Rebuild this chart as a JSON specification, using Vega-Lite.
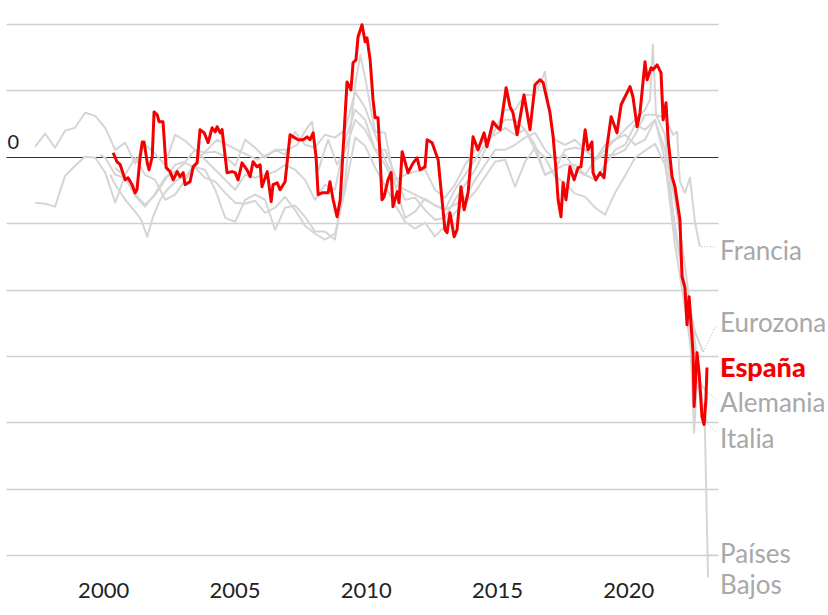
{
"$schema": "https://vega.github.io/schema/vega-lite/v6.json",
"width": 712, "height": 531,
"autosize": {"type": "none"},
"padding": {"left": 6, "top": 24, "right": 110, "bottom": 60},
"background": "white",
"config": {"view": {"stroke": null}, "font": "Lato"},
"datasets": {
"series": [
{"p":"Alemania","a":1997.41,"v":0.38},{"p":"Alemania","a":1997.79,"v":0.87},{"p":"Alemania","a":1998.17,"v":0.34},{"p":"Alemania","a":1998.55,"v":0.98},{"p":"Alemania","a":1998.93,"v":1.09},{"p":"Alemania","a":1999.31,"v":1.66},{"p":"Alemania","a":1999.70,"v":1.54},{"p":"Alemania","a":2000.08,"v":1.09},{"p":"Alemania","a":2000.46,"v":0.26},{"p":"Alemania","a":2000.84,"v":0.53},{"p":"Alemania","a":2001.22,"v":-0.26},{"p":"Alemania","a":2001.60,"v":0.45},{"p":"Alemania","a":2001.98,"v":0.11},{"p":"Alemania","a":2002.36,"v":-0.30},{"p":"Alemania","a":2002.74,"v":0.83},{"p":"Alemania","a":2003.12,"v":0.60},{"p":"Alemania","a":2003.50,"v":0.26},{"p":"Alemania","a":2003.88,"v":0.15},{"p":"Alemania","a":2004.27,"v":0.19},{"p":"Alemania","a":2004.65,"v":0},{"p":"Alemania","a":2005.03,"v":-0.34},{"p":"Alemania","a":2005.41,"v":0.64},{"p":"Alemania","a":2005.79,"v":0.34},{"p":"Alemania","a":2006.17,"v":-0.04},{"p":"Alemania","a":2006.55,"v":0.26},{"p":"Alemania","a":2006.93,"v":0.08},{"p":"Alemania","a":2007.31,"v":0.94},{"p":"Alemania","a":2007.69,"v":0.45},{"p":"Alemania","a":2008.07,"v":0.34},{"p":"Alemania","a":2008.45,"v":0.83},{"p":"Alemania","a":2008.83,"v":0.72},{"p":"Alemania","a":2009.22,"v":1.02},{"p":"Alemania","a":2009.60,"v":2.45},{"p":"Alemania","a":2009.98,"v":1.84},{"p":"Alemania","a":2010.36,"v":0.83},{"p":"Alemania","a":2010.74,"v":-0.11},{"p":"Alemania","a":2011.12,"v":-0.87},{"p":"Alemania","a":2011.50,"v":-0.68},{"p":"Alemania","a":2011.88,"v":-0.56},{"p":"Alemania","a":2012.26,"v":-0.49},{"p":"Alemania","a":2012.64,"v":-1.24},{"p":"Alemania","a":2013.02,"v":-1.54},{"p":"Alemania","a":2013.40,"v":-1.05},{"p":"Alemania","a":2013.79,"v":-0.30},{"p":"Alemania","a":2014.17,"v":0.26},{"p":"Alemania","a":2014.55,"v":0.64},{"p":"Alemania","a":2014.93,"v":0.83},{"p":"Alemania","a":2015.31,"v":1.09},{"p":"Alemania","a":2015.69,"v":0.83},{"p":"Alemania","a":2016.07,"v":1.02},{"p":"Alemania","a":2016.45,"v":0.26},{"p":"Alemania","a":2016.83,"v":-0.68},{"p":"Alemania","a":2017.21,"v":-0.49},{"p":"Alemania","a":2017.59,"v":0.26},{"p":"Alemania","a":2017.97,"v":0.34},{"p":"Alemania","a":2018.36,"v":0.26},{"p":"Alemania","a":2018.74,"v":-0.11},{"p":"Alemania","a":2019.12,"v":0.45},{"p":"Alemania","a":2019.50,"v":0.64},{"p":"Alemania","a":2019.88,"v":0.83},{"p":"Alemania","a":2020.26,"v":0.45},{"p":"Alemania","a":2020.64,"v":0.64},{"p":"Alemania","a":2021.02,"v":1.39},{"p":"Alemania","a":2021.40,"v":-0.11},{"p":"Alemania","a":2021.78,"v":-3.31},{"p":"Alemania","a":2022.16,"v":-5.65},{"p":"Alemania","a":2022.54,"v":-8.21},{"p":"Alemania","a":2023.00,"v":-8.89},
{"p":"Francia","a":1997.41,"v":-1.73},{"p":"Francia","a":1997.79,"v":-1.77},{"p":"Francia","a":1998.17,"v":-1.88},{"p":"Francia","a":1998.55,"v":-0.72},{"p":"Francia","a":1998.93,"v":-0.34},{"p":"Francia","a":1999.31,"v":0},{"p":"Francia","a":1999.70,"v":-0.04},{"p":"Francia","a":2000.08,"v":-0.60},{"p":"Francia","a":2000.46,"v":-1.73},{"p":"Francia","a":2000.84,"v":-0.68},{"p":"Francia","a":2001.22,"v":-0.04},{"p":"Francia","a":2001.60,"v":-0.68},{"p":"Francia","a":2001.98,"v":-0.87},{"p":"Francia","a":2002.36,"v":-1.62},{"p":"Francia","a":2002.74,"v":-1.43},{"p":"Francia","a":2003.12,"v":-0.87},{"p":"Francia","a":2003.50,"v":-0.38},{"p":"Francia","a":2003.88,"v":-0.49},{"p":"Francia","a":2004.27,"v":-1.24},{"p":"Francia","a":2004.65,"v":-2.30},{"p":"Francia","a":2005.03,"v":-2.45},{"p":"Francia","a":2005.41,"v":-1.62},{"p":"Francia","a":2005.79,"v":-1.43},{"p":"Francia","a":2006.17,"v":-1.62},{"p":"Francia","a":2006.55,"v":-2.75},{"p":"Francia","a":2006.93,"v":-1.92},{"p":"Francia","a":2007.31,"v":-1.84},{"p":"Francia","a":2007.69,"v":-2.26},{"p":"Francia","a":2008.07,"v":-2.82},{"p":"Francia","a":2008.45,"v":-2.82},{"p":"Francia","a":2008.83,"v":-3.12},{"p":"Francia","a":2009.22,"v":-0.87},{"p":"Francia","a":2009.60,"v":2.71},{"p":"Francia","a":2009.79,"v":3.84},{"p":"Francia","a":2009.98,"v":2.97},{"p":"Francia","a":2010.36,"v":0.94},{"p":"Francia","a":2010.74,"v":0.90},{"p":"Francia","a":2011.12,"v":-1.05},{"p":"Francia","a":2011.50,"v":-2.30},{"p":"Francia","a":2011.88,"v":-2.07},{"p":"Francia","a":2012.26,"v":-1.58},{"p":"Francia","a":2012.64,"v":-1.84},{"p":"Francia","a":2013.02,"v":-2.00},{"p":"Francia","a":2013.40,"v":-1.81},{"p":"Francia","a":2013.79,"v":-1.54},{"p":"Francia","a":2014.17,"v":-0.87},{"p":"Francia","a":2014.55,"v":-0.30},{"p":"Francia","a":2014.93,"v":0.26},{"p":"Francia","a":2015.31,"v":0.26},{"p":"Francia","a":2015.69,"v":0.45},{"p":"Francia","a":2016.07,"v":0.72},{"p":"Francia","a":2016.45,"v":0.90},{"p":"Francia","a":2016.83,"v":0.26},{"p":"Francia","a":2017.21,"v":-0.11},{"p":"Francia","a":2017.59,"v":0.08},{"p":"Francia","a":2017.97,"v":-0.49},{"p":"Francia","a":2018.36,"v":-0.68},{"p":"Francia","a":2018.74,"v":-0.11},{"p":"Francia","a":2019.12,"v":0.08},{"p":"Francia","a":2019.50,"v":0.08},{"p":"Francia","a":2019.88,"v":0.26},{"p":"Francia","a":2020.26,"v":0.83},{"p":"Francia","a":2020.64,"v":1.58},{"p":"Francia","a":2021.02,"v":1.58},{"p":"Francia","a":2021.40,"v":1.47},{"p":"Francia","a":2021.71,"v":0.83},{"p":"Francia","a":2021.86,"v":0.94},{"p":"Francia","a":2021.97,"v":-0.94},{"p":"Francia","a":2022.16,"v":-1.36},{"p":"Francia","a":2022.35,"v":-0.79},{"p":"Francia","a":2022.54,"v":-2.45},{"p":"Francia","a":2022.73,"v":-3.39},
{"p":"Eurozona","a":1999.89,"v":0.08},{"p":"Eurozona","a":2000.08,"v":-0.04},{"p":"Eurozona","a":2000.46,"v":-0.68},{"p":"Eurozona","a":2000.84,"v":-0.79},{"p":"Eurozona","a":2001.22,"v":-1.43},{"p":"Eurozona","a":2001.60,"v":-1.81},{"p":"Eurozona","a":2001.98,"v":-1.43},{"p":"Eurozona","a":2002.36,"v":-0.87},{"p":"Eurozona","a":2002.74,"v":-0.30},{"p":"Eurozona","a":2003.12,"v":-0.19},{"p":"Eurozona","a":2003.50,"v":0.26},{"p":"Eurozona","a":2003.88,"v":-0.11},{"p":"Eurozona","a":2004.27,"v":-0.49},{"p":"Eurozona","a":2004.65,"v":-0.87},{"p":"Eurozona","a":2005.03,"v":-1.24},{"p":"Eurozona","a":2005.41,"v":-0.68},{"p":"Eurozona","a":2005.79,"v":-0.79},{"p":"Eurozona","a":2006.17,"v":-0.68},{"p":"Eurozona","a":2006.55,"v":-0.56},{"p":"Eurozona","a":2006.93,"v":-0.30},{"p":"Eurozona","a":2007.31,"v":-0.49},{"p":"Eurozona","a":2007.69,"v":-0.87},{"p":"Eurozona","a":2008.07,"v":-1.62},{"p":"Eurozona","a":2008.45,"v":-1.05},{"p":"Eurozona","a":2008.83,"v":-1.24},{"p":"Eurozona","a":2009.22,"v":0.64},{"p":"Eurozona","a":2009.60,"v":1.77},{"p":"Eurozona","a":2009.98,"v":1.39},{"p":"Eurozona","a":2010.36,"v":0.26},{"p":"Eurozona","a":2010.74,"v":0.26},{"p":"Eurozona","a":2011.12,"v":-0.68},{"p":"Eurozona","a":2011.50,"v":-1.62},{"p":"Eurozona","a":2011.88,"v":-1.54},{"p":"Eurozona","a":2012.26,"v":-2.00},{"p":"Eurozona","a":2012.64,"v":-2.37},{"p":"Eurozona","a":2013.02,"v":-2.30},{"p":"Eurozona","a":2013.40,"v":-1.62},{"p":"Eurozona","a":2013.79,"v":-1.05},{"p":"Eurozona","a":2014.17,"v":-0.49},{"p":"Eurozona","a":2014.55,"v":0.26},{"p":"Eurozona","a":2014.93,"v":1.02},{"p":"Eurozona","a":2015.31,"v":1.77},{"p":"Eurozona","a":2015.69,"v":1.77},{"p":"Eurozona","a":2016.07,"v":2.33},{"p":"Eurozona","a":2016.45,"v":2.33},{"p":"Eurozona","a":2016.83,"v":3.20},{"p":"Eurozona","a":2017.02,"v":1.39},{"p":"Eurozona","a":2017.21,"v":0.64},{"p":"Eurozona","a":2017.59,"v":0.45},{"p":"Eurozona","a":2017.97,"v":0.64},{"p":"Eurozona","a":2018.36,"v":0.26},{"p":"Eurozona","a":2018.74,"v":-0.11},{"p":"Eurozona","a":2019.12,"v":0.26},{"p":"Eurozona","a":2019.50,"v":0.64},{"p":"Eurozona","a":2019.88,"v":1.02},{"p":"Eurozona","a":2020.26,"v":1.39},{"p":"Eurozona","a":2020.64,"v":1.77},{"p":"Eurozona","a":2020.83,"v":2.15},{"p":"Eurozona","a":2020.94,"v":4.22},{"p":"Eurozona","a":2021.06,"v":1.58},{"p":"Eurozona","a":2021.40,"v":0.83},{"p":"Eurozona","a":2021.78,"v":-2.82},{"p":"Eurozona","a":2022.16,"v":-4.82},{"p":"Eurozona","a":2022.54,"v":-6.59},{"p":"Eurozona","a":2022.85,"v":-7.34},
{"p":"Italia","a":2000.46,"v":-0.41},{"p":"Italia","a":2000.84,"v":-0.75},{"p":"Italia","a":2001.22,"v":-1.47},{"p":"Italia","a":2001.60,"v":-1.88},{"p":"Italia","a":2001.98,"v":-1.39},{"p":"Italia","a":2002.36,"v":-0.79},{"p":"Italia","a":2002.74,"v":-0.56},{"p":"Italia","a":2003.12,"v":-0.23},{"p":"Italia","a":2003.50,"v":-0.41},{"p":"Italia","a":2003.88,"v":-0.79},{"p":"Italia","a":2004.27,"v":-0.94},{"p":"Italia","a":2004.65,"v":-1.36},{"p":"Italia","a":2005.03,"v":-1.73},{"p":"Italia","a":2005.41,"v":-1.77},{"p":"Italia","a":2005.79,"v":-1.66},{"p":"Italia","a":2006.17,"v":-2.11},{"p":"Italia","a":2006.55,"v":-1.92},{"p":"Italia","a":2006.93,"v":-1.51},{"p":"Italia","a":2007.31,"v":-2.00},{"p":"Italia","a":2007.69,"v":-2.60},{"p":"Italia","a":2008.07,"v":-2.90},{"p":"Italia","a":2008.45,"v":-3.12},{"p":"Italia","a":2008.83,"v":-2.90},{"p":"Italia","a":2009.22,"v":-1.24},{"p":"Italia","a":2009.60,"v":0.72},{"p":"Italia","a":2009.98,"v":0.41},{"p":"Italia","a":2010.36,"v":-0.41},{"p":"Italia","a":2010.74,"v":-1.09},{"p":"Italia","a":2011.12,"v":-1.81},{"p":"Italia","a":2011.50,"v":-2.45},{"p":"Italia","a":2011.88,"v":-2.71},{"p":"Italia","a":2012.26,"v":-2.48},{"p":"Italia","a":2012.64,"v":-3.01},{"p":"Italia","a":2013.02,"v":-2.60},{"p":"Italia","a":2013.40,"v":-2.11},{"p":"Italia","a":2013.79,"v":-1.73},{"p":"Italia","a":2014.17,"v":-1.32},{"p":"Italia","a":2014.55,"v":-0.75},{"p":"Italia","a":2014.93,"v":-0.19},{"p":"Italia","a":2015.31,"v":-0.11},{"p":"Italia","a":2015.69,"v":-1.13},{"p":"Italia","a":2016.07,"v":-0.19},{"p":"Italia","a":2016.45,"v":0.34},{"p":"Italia","a":2016.83,"v":-0.04},{"p":"Italia","a":2017.21,"v":-0.75},{"p":"Italia","a":2017.59,"v":-0.98},{"p":"Italia","a":2017.97,"v":-1.39},{"p":"Italia","a":2018.36,"v":-1.51},{"p":"Italia","a":2018.74,"v":-1.92},{"p":"Italia","a":2019.12,"v":-2.18},{"p":"Italia","a":2019.50,"v":-1.36},{"p":"Italia","a":2019.88,"v":-0.72},{"p":"Italia","a":2020.26,"v":-0.04},{"p":"Italia","a":2020.64,"v":0.23},{"p":"Italia","a":2021.02,"v":0.49},{"p":"Italia","a":2021.40,"v":-0.30},{"p":"Italia","a":2021.78,"v":-2.56},{"p":"Italia","a":2022.16,"v":-4.89},{"p":"Italia","a":2022.35,"v":-6.51},{"p":"Italia","a":2022.51,"v":-10.39},{"p":"Italia","a":2022.62,"v":-8.40},{"p":"Italia","a":2022.73,"v":-8.96},{"p":"Italia","a":2023.00,"v":-9.98},
{"p":"Países Bajos","a":2000.27,"v":-0.68},{"p":"Países Bajos","a":2000.46,"v":-1.05},{"p":"Países Bajos","a":2000.84,"v":-1.62},{"p":"Países Bajos","a":2001.22,"v":-2.07},{"p":"Países Bajos","a":2001.45,"v":-2.37},{"p":"Países Bajos","a":2001.68,"v":-3.01},{"p":"Países Bajos","a":2001.90,"v":-2.26},{"p":"Países Bajos","a":2002.17,"v":-1.62},{"p":"Países Bajos","a":2002.44,"v":-1.24},{"p":"Países Bajos","a":2002.82,"v":-0.87},{"p":"Países Bajos","a":2003.20,"v":-0.68},{"p":"Países Bajos","a":2003.58,"v":-0.11},{"p":"Países Bajos","a":2003.96,"v":0.26},{"p":"Países Bajos","a":2004.34,"v":0.64},{"p":"Países Bajos","a":2004.72,"v":0.45},{"p":"Países Bajos","a":2005.10,"v":0.26},{"p":"Países Bajos","a":2005.48,"v":0.08},{"p":"Países Bajos","a":2005.86,"v":-0.11},{"p":"Países Bajos","a":2006.25,"v":0.08},{"p":"Países Bajos","a":2006.63,"v":0.26},{"p":"Países Bajos","a":2007.01,"v":0.26},{"p":"Países Bajos","a":2007.39,"v":0.45},{"p":"Países Bajos","a":2007.77,"v":1.09},{"p":"Países Bajos","a":2007.96,"v":1.32},{"p":"Países Bajos","a":2008.19,"v":-0.56},{"p":"Países Bajos","a":2008.38,"v":0.08},{"p":"Países Bajos","a":2008.57,"v":0.64},{"p":"Países Bajos","a":2008.91,"v":-0.30},{"p":"Países Bajos","a":2009.22,"v":0.26},{"p":"Países Bajos","a":2009.60,"v":1.39},{"p":"Países Bajos","a":2009.98,"v":1.02},{"p":"Países Bajos","a":2010.36,"v":0.26},{"p":"Países Bajos","a":2010.74,"v":-0.30},{"p":"Países Bajos","a":2011.12,"v":-1.05},{"p":"Países Bajos","a":2011.50,"v":-1.24},{"p":"Países Bajos","a":2011.88,"v":-1.43},{"p":"Países Bajos","a":2012.26,"v":-1.62},{"p":"Países Bajos","a":2012.64,"v":-1.81},{"p":"Países Bajos","a":2013.02,"v":-2.00},{"p":"Países Bajos","a":2013.40,"v":-1.24},{"p":"Países Bajos","a":2013.79,"v":-0.68},{"p":"Países Bajos","a":2014.17,"v":-0.11},{"p":"Países Bajos","a":2014.55,"v":0.45},{"p":"Países Bajos","a":2014.93,"v":1.02},{"p":"Países Bajos","a":2015.31,"v":1.39},{"p":"Países Bajos","a":2015.69,"v":1.39},{"p":"Países Bajos","a":2016.07,"v":1.02},{"p":"Países Bajos","a":2016.45,"v":0.45},{"p":"Países Bajos","a":2016.83,"v":-0.68},{"p":"Países Bajos","a":2017.21,"v":-0.49},{"p":"Países Bajos","a":2017.59,"v":-0.30},{"p":"Países Bajos","a":2017.97,"v":-0.30},{"p":"Países Bajos","a":2018.36,"v":-0.68},{"p":"Países Bajos","a":2018.74,"v":-0.87},{"p":"Países Bajos","a":2019.12,"v":-0.30},{"p":"Países Bajos","a":2019.50,"v":0.26},{"p":"Países Bajos","a":2019.88,"v":0.45},{"p":"Países Bajos","a":2020.26,"v":1.20},{"p":"Países Bajos","a":2020.64,"v":1.02},{"p":"Países Bajos","a":2021.02,"v":1.39},{"p":"Países Bajos","a":2021.40,"v":0.26},{"p":"Países Bajos","a":2021.78,"v":-1.62},{"p":"Países Bajos","a":2022.13,"v":-3.88},{"p":"Países Bajos","a":2022.43,"v":-6.14},{"p":"Países Bajos","a":2022.73,"v":-8.40},{"p":"Países Bajos","a":2022.92,"v":-10.17},{"p":"Países Bajos","a":2023.04,"v":-15.85},
{"p":"España","a":2000.38,"v":0.15},{"p":"España","a":2000.53,"v":-0.19},{"p":"España","a":2000.65,"v":-0.30},{"p":"España","a":2000.84,"v":-0.87},{"p":"España","a":2000.95,"v":-0.79},{"p":"España","a":2001.10,"v":-1.05},{"p":"España","a":2001.22,"v":-1.36},{"p":"España","a":2001.29,"v":-1.24},{"p":"España","a":2001.41,"v":0},{"p":"España","a":2001.49,"v":0.56},{"p":"España","a":2001.56,"v":0.56},{"p":"España","a":2001.68,"v":-0.23},{"p":"España","a":2001.75,"v":-0.49},{"p":"España","a":2001.87,"v":0},{"p":"España","a":2001.94,"v":1.69},{"p":"España","a":2002.06,"v":1.58},{"p":"España","a":2002.13,"v":1.32},{"p":"España","a":2002.28,"v":1.32},{"p":"España","a":2002.40,"v":-0.41},{"p":"España","a":2002.55,"v":-0.56},{"p":"España","a":2002.67,"v":-0.87},{"p":"España","a":2002.82,"v":-0.56},{"p":"España","a":2002.93,"v":-0.75},{"p":"España","a":2003.05,"v":-0.60},{"p":"España","a":2003.12,"v":-1.05},{"p":"España","a":2003.31,"v":-0.94},{"p":"España","a":2003.43,"v":-0.38},{"p":"España","a":2003.58,"v":-0.23},{"p":"España","a":2003.69,"v":1.02},{"p":"España","a":2003.85,"v":0.90},{"p":"España","a":2004.00,"v":0.53},{"p":"España","a":2004.15,"v":1.09},{"p":"España","a":2004.27,"v":0.94},{"p":"España","a":2004.34,"v":1.13},{"p":"España","a":2004.46,"v":0.90},{"p":"España","a":2004.53,"v":1.02},{"p":"España","a":2004.72,"v":-0.60},{"p":"España","a":2004.91,"v":-0.56},{"p":"España","a":2005.03,"v":-0.60},{"p":"España","a":2005.14,"v":-0.87},{"p":"España","a":2005.29,"v":-0.23},{"p":"España","a":2005.48,"v":-0.49},{"p":"España","a":2005.60,"v":-0.75},{"p":"España","a":2005.71,"v":-0.19},{"p":"España","a":2005.86,"v":-0.38},{"p":"España","a":2005.98,"v":-0.30},{"p":"España","a":2006.05,"v":-1.13},{"p":"España","a":2006.25,"v":-0.56},{"p":"España","a":2006.40,"v":-1.69},{"p":"España","a":2006.47,"v":-1.05},{"p":"España","a":2006.63,"v":-0.98},{"p":"España","a":2006.74,"v":-1.24},{"p":"España","a":2006.93,"v":-0.94},{"p":"España","a":2007.12,"v":0.83},{"p":"España","a":2007.24,"v":0.75},{"p":"España","a":2007.43,"v":0.64},{"p":"España","a":2007.62,"v":0.64},{"p":"España","a":2007.77,"v":0.75},{"p":"España","a":2007.88,"v":0.64},{"p":"España","a":2008.00,"v":0.90},{"p":"España","a":2008.11,"v":0},{"p":"España","a":2008.19,"v":-1.43},{"p":"España","a":2008.34,"v":-1.36},{"p":"España","a":2008.57,"v":-1.36},{"p":"España","a":2008.64,"v":-0.94},{"p":"España","a":2008.76,"v":-1.62},{"p":"España","a":2008.91,"v":-2.26},{"p":"España","a":2009.03,"v":-1.62},{"p":"España","a":2009.14,"v":0.26},{"p":"España","a":2009.29,"v":2.82},{"p":"España","a":2009.44,"v":2.52},{"p":"España","a":2009.52,"v":3.54},{"p":"España","a":2009.63,"v":3.65},{"p":"España","a":2009.71,"v":4.52},{"p":"España","a":2009.86,"v":4.97},{"p":"España","a":2009.98,"v":4.33},{"p":"España","a":2010.05,"v":4.48},{"p":"España","a":2010.17,"v":3.65},{"p":"España","a":2010.28,"v":2.15},{"p":"España","a":2010.36,"v":1.47},{"p":"España","a":2010.47,"v":1.47},{"p":"España","a":2010.55,"v":0},{"p":"España","a":2010.62,"v":-1.62},{"p":"España","a":2010.70,"v":-1.51},{"p":"España","a":2010.85,"v":-0.87},{"p":"España","a":2010.97,"v":-0.60},{"p":"España","a":2011.04,"v":-1.88},{"p":"España","a":2011.20,"v":-1.32},{"p":"España","a":2011.27,"v":-1.73},{"p":"España","a":2011.39,"v":0.19},{"p":"España","a":2011.50,"v":-0.19},{"p":"España","a":2011.61,"v":-0.60},{"p":"España","a":2011.81,"v":-0.23},{"p":"España","a":2011.96,"v":-0.04},{"p":"España","a":2012.07,"v":-0.49},{"p":"España","a":2012.26,"v":-0.38},{"p":"España","a":2012.34,"v":0.64},{"p":"España","a":2012.53,"v":0.53},{"p":"España","a":2012.76,"v":-0.11},{"p":"España","a":2012.87,"v":-1.24},{"p":"España","a":2013.02,"v":-2.75},{"p":"España","a":2013.10,"v":-2.86},{"p":"España","a":2013.21,"v":-2.11},{"p":"España","a":2013.37,"v":-3.01},{"p":"España","a":2013.48,"v":-2.75},{"p":"España","a":2013.63,"v":-1.13},{"p":"España","a":2013.75,"v":-2.00},{"p":"España","a":2013.90,"v":-1.36},{"p":"España","a":2014.09,"v":0.75},{"p":"España","a":2014.28,"v":0.26},{"p":"España","a":2014.51,"v":0.90},{"p":"España","a":2014.62,"v":0.38},{"p":"España","a":2014.85,"v":1.32},{"p":"España","a":2015.00,"v":1.13},{"p":"España","a":2015.12,"v":1.02},{"p":"España","a":2015.35,"v":2.60},{"p":"España","a":2015.50,"v":1.88},{"p":"España","a":2015.61,"v":1.66},{"p":"España","a":2015.77,"v":0.83},{"p":"España","a":2016.03,"v":2.33},{"p":"España","a":2016.26,"v":1.02},{"p":"España","a":2016.45,"v":2.71},{"p":"España","a":2016.64,"v":2.90},{"p":"España","a":2016.76,"v":2.79},{"p":"España","a":2017.02,"v":1.66},{"p":"España","a":2017.14,"v":0.75},{"p":"España","a":2017.25,"v":-0.49},{"p":"España","a":2017.33,"v":-1.62},{"p":"España","a":2017.44,"v":-2.26},{"p":"España","a":2017.52,"v":-0.98},{"p":"España","a":2017.63,"v":-1.62},{"p":"España","a":2017.78,"v":-0.38},{"p":"España","a":2017.94,"v":-0.87},{"p":"España","a":2018.09,"v":-0.41},{"p":"España","a":2018.20,"v":-0.38},{"p":"España","a":2018.36,"v":1.02},{"p":"España","a":2018.47,"v":0.26},{"p":"España","a":2018.62,"v":0.56},{"p":"España","a":2018.66,"v":-0.60},{"p":"España","a":2018.77,"v":-0.87},{"p":"España","a":2018.93,"v":-0.60},{"p":"España","a":2019.08,"v":-0.79},{"p":"España","a":2019.19,"v":0.38},{"p":"España","a":2019.35,"v":1.51},{"p":"España","a":2019.42,"v":1.32},{"p":"España","a":2019.57,"v":0.90},{"p":"España","a":2019.73,"v":1.96},{"p":"España","a":2019.88,"v":2.26},{"p":"España","a":2020.07,"v":2.64},{"p":"España","a":2020.18,"v":2.26},{"p":"España","a":2020.34,"v":1.13},{"p":"España","a":2020.45,"v":1.66},{"p":"España","a":2020.64,"v":3.58},{"p":"España","a":2020.72,"v":2.90},{"p":"España","a":2020.87,"v":3.35},{"p":"España","a":2020.94,"v":3.28},{"p":"España","a":2021.10,"v":3.46},{"p":"España","a":2021.25,"v":3.16},{"p":"España","a":2021.33,"v":1.39},{"p":"España","a":2021.44,"v":2.03},{"p":"España","a":2021.52,"v":0.64},{"p":"España","a":2021.67,"v":-0.75},{"p":"España","a":2021.78,"v":-1.13},{"p":"España","a":2021.97,"v":-2.37},{"p":"España","a":2022.05,"v":-4.52},{"p":"España","a":2022.16,"v":-4.93},{"p":"España","a":2022.24,"v":-6.33},{"p":"España","a":2022.32,"v":-5.27},{"p":"España","a":2022.47,"v":-7.38},{"p":"España","a":2022.51,"v":-9.41},{"p":"España","a":2022.62,"v":-7.38},{"p":"España","a":2022.70,"v":-8.13},{"p":"España","a":2022.81,"v":-9.79},{"p":"España","a":2022.89,"v":-10.09},{"p":"España","a":2022.96,"v":-9.15},{"p":"España","a":2023.00,"v":-7.94}
],
"etiquetas": [
{"texto":"Francia","a_fin":2022.78,"v_fin":-3.39,"v_guia":-3.39,"v_txt":-3.88},
{"texto":"Eurozona","a_fin":2022.87,"v_fin":-7.34,"v_guia":-6.33,"v_txt":-6.59},
{"texto":"España","a_fin":null,"v_fin":null,"v_guia":null,"v_txt":-8.28},
{"texto":"Alemania","a_fin":2023.04,"v_fin":-8.89,"v_guia":-9.15,"v_txt":-9.60},
{"texto":"Italia","a_fin":2022.98,"v_fin":-10.0,"v_guia":-10.39,"v_txt":-10.96},
{"texto":"Países\nBajos","a_fin":2023.06,"v_fin":-15.0,"v_guia":-15.0,"v_txt":-15.29}
]
},
"layer": [
{
"data": {"name": "series"},
"transform": [{"filter": "datum.p !== 'España'"}],
"mark": {"type": "line", "stroke": "#d5d5d5", "strokeWidth": 2, "strokeJoin": "round"},
"encoding": {
"x": {"field": "a", "type": "quantitative",
"scale": {"domain": [1996.3, 2023.42], "nice": false, "zero": false},
"axis": {"values": [2000, 2005, 2010, 2015, 2020], "format": "d", "title": null, "ticks": false, "tickSize": 0, "domain": false, "grid": false, "labelFontSize": 22, "labelFont": "Lato", "labelColor": "#222", "labelPadding": 25, "labelFlush": false}},
"y": {"field": "v", "type": "quantitative",
"scale": {"domain": [-15, 5], "nice": false, "zero": false},
"axis": {"values": [-15, -12.5, -10, -7.5, -5, -2.5, 0, 2.5, 5], "title": null, "ticks": false, "tickSize": 0, "domain": false, "grid": true,
"gridColor": {"condition": {"test": "datum.value === 0", "value": "#333333"}, "value": "#cfcfcf"},
"gridWidth": {"condition": {"test": "datum.value === 0", "value": 1}, "value": 1.3},
"labelExpr": "datum.value === 0 ? '0' : ''", "labelAlign": "left", "labelBaseline": "alphabetic", "labelPadding": -1, "labelOffset": -8, "labelFontSize": 20, "labelFont": "Lato", "labelColor": "#222"}},
"detail": {"field": "p"}
}
},
{
"data": {"name": "series"},
"transform": [{"filter": "datum.p === 'España'"}],
"mark": {"type": "line", "stroke": "#f50000", "strokeWidth": 3, "strokeJoin": "round"},
"encoding": {
"x": {"field": "a", "type": "quantitative"},
"y": {"field": "v", "type": "quantitative"}
}
},
{
"data": {"name": "etiquetas"},
"transform": [{"filter": "datum.v_guia != null"}],
"mark": {"type": "rule", "stroke": "#b5b5b5", "strokeWidth": 1, "strokeDash": [1, 2]},
"encoding": {
"x": {"field": "a_fin", "type": "quantitative"},
"y": {"field": "v_fin", "type": "quantitative"},
"x2": {"datum": 2023.36},
"y2": {"field": "v_guia"}
}
},
{
"data": {"name": "etiquetas"},
"transform": [{"filter": "datum.texto !== 'España'"}],
"mark": {"type": "text", "align": "left", "baseline": "alphabetic", "fontSize": 26, "font": "Lato", "color": "#a8a8a8", "lineBreak": "\n", "lineHeight": 31},
"encoding": {
"x": {"datum": 2023.5, "type": "quantitative"},
"y": {"field": "v_txt", "type": "quantitative"},
"text": {"field": "texto"}
}
},
{
"data": {"name": "etiquetas"},
"transform": [{"filter": "datum.texto === 'España'"}],
"mark": {"type": "text", "align": "left", "baseline": "alphabetic", "fontSize": 27, "font": "Lato", "fontWeight": 900, "color": "#f50000"},
"encoding": {
"x": {"datum": 2023.5, "type": "quantitative"},
"y": {"field": "v_txt", "type": "quantitative"},
"text": {"field": "texto"}
}
}
]
}
